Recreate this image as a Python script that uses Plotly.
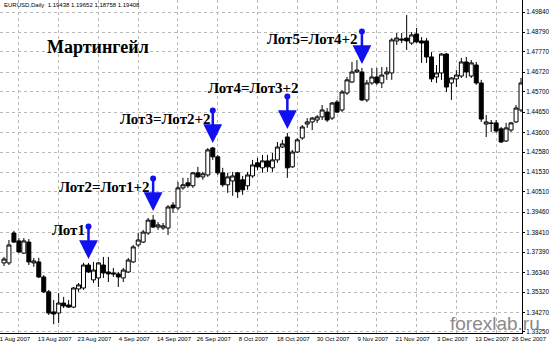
import pandas as pd
import plotly.graph_objects as go

# ---- data (EURUSD daily) ----
dates = [d.strftime("%Y-%m-%d") for d in pd.bdate_range("2007-07-27", "2007-12-20")]

opens = [1.3683, 1.3683, 1.3838, 1.3797, 1.3734, 1.3791, 1.3683, 1.3688, 1.3610, 1.3533,
         1.3429, 1.3423, 1.3475, 1.3465, 1.3454, 1.3548, 1.3553, 1.3672, 1.3595, 1.3605,
         1.3672, 1.3636, 1.3631, 1.3626, 1.3605, 1.3636, 1.3688, 1.3776, 1.3791, 1.3838,
         1.3905, 1.3869, 1.3864, 1.3864, 1.3983, 1.3968, 1.4072, 1.4098, 1.4083, 1.4150,
         1.4129, 1.4139, 1.4279, 1.4233, 1.4150, 1.4088, 1.4108, 1.4150, 1.4114, 1.4083,
         1.4134, 1.4202, 1.4176, 1.4212, 1.4176, 1.4217, 1.4284, 1.4336, 1.4181, 1.4258,
         1.4331, 1.4403, 1.4414, 1.4424, 1.4440, 1.4465, 1.4434, 1.4517, 1.4476, 1.4564,
         1.4621, 1.4673, 1.4673, 1.4528, 1.4616, 1.4647, 1.4616, 1.4663, 1.4668, 1.4834,
         1.4844, 1.4849, 1.4823, 1.4870, 1.4834, 1.4834, 1.4751, 1.4647, 1.4668, 1.4766,
         1.4616, 1.4637, 1.4652, 1.4725, 1.4652, 1.4709, 1.4616, 1.4403, 1.4409, 1.4409,
         1.4378, 1.4315, 1.4372, 1.4414, 1.4476]
highs = [1.3714, 1.3802, 1.3849, 1.3812, 1.3812, 1.3807, 1.3709, 1.3709, 1.3620, 1.3543,
         1.3491, 1.3527, 1.3507, 1.3491, 1.3558, 1.3579, 1.3683, 1.3683, 1.3688, 1.3688,
         1.3714, 1.3714, 1.3657, 1.3636, 1.3657, 1.3709, 1.3776, 1.3838, 1.3854, 1.3916,
         1.3931, 1.3895, 1.3890, 1.3983, 1.3999, 1.4103, 1.4124, 1.4124, 1.4155, 1.4181,
         1.4155, 1.4279, 1.4284, 1.4243, 1.4176, 1.4150, 1.4155, 1.4155, 1.4134, 1.4155,
         1.4217, 1.4228, 1.4243, 1.4243, 1.4253, 1.4310, 1.4321, 1.4357, 1.4269, 1.4331,
         1.4398, 1.4434, 1.4440, 1.4450, 1.4502, 1.4486, 1.4517, 1.4528, 1.4580, 1.4647,
         1.4725, 1.4735, 1.4694, 1.4632, 1.4694, 1.4694, 1.4699, 1.4699, 1.4849, 1.4875,
         1.4875, 1.4968, 1.4880, 1.4901, 1.4854, 1.4849, 1.4777, 1.4709, 1.4771, 1.4771,
         1.4647, 1.4683, 1.4746, 1.4751, 1.4735, 1.4725, 1.4632, 1.4450, 1.4424, 1.4424,
         1.4388, 1.4409, 1.4414, 1.4502, 1.4642]
lows = [1.3667, 1.3672, 1.3786, 1.3734, 1.3729, 1.3672, 1.3662, 1.3605, 1.3527, 1.3413,
        1.3365, 1.3371, 1.3449, 1.3449, 1.3449, 1.3533, 1.3543, 1.3631, 1.3579, 1.3558,
        1.3605, 1.3584, 1.3610, 1.3558, 1.3584, 1.3631, 1.3683, 1.3766, 1.3786, 1.3828,
        1.3864, 1.3854, 1.3854, 1.3828, 1.3942, 1.3957, 1.4062, 1.4072, 1.4072, 1.4124,
        1.4114, 1.4129, 1.4217, 1.4139, 1.4077, 1.4046, 1.4031, 1.4020, 1.4036, 1.4062,
        1.4124, 1.4165, 1.4150, 1.4155, 1.4155, 1.4202, 1.4279, 1.4124, 1.4176, 1.4253,
        1.4321, 1.4383, 1.4372, 1.4409, 1.4424, 1.4414, 1.4424, 1.4460, 1.4465, 1.4554,
        1.4616, 1.4668, 1.4522, 1.4517, 1.4606, 1.4606, 1.4590, 1.4632, 1.4632, 1.4813,
        1.4823, 1.4787, 1.4813, 1.4823, 1.4720, 1.4720, 1.4621, 1.4616, 1.4632, 1.4569,
        1.4528, 1.4595, 1.4642, 1.4642, 1.4642, 1.4606, 1.4414, 1.4336, 1.4362, 1.4357,
        1.4305, 1.4310, 1.4362, 1.4409, 1.4465]
closes = [1.3703, 1.3776, 1.3791, 1.3740, 1.3797, 1.3688, 1.3693, 1.3610, 1.3533, 1.3423,
          1.3418, 1.3475, 1.3460, 1.3454, 1.3553, 1.3569, 1.3672, 1.3636, 1.3646, 1.3683,
          1.3631, 1.3626, 1.3626, 1.3610, 1.3646, 1.3698, 1.3766, 1.3802, 1.3843, 1.3905,
          1.3869, 1.3880, 1.3875, 1.3973, 1.3968, 1.4072, 1.4088, 1.4083, 1.4150, 1.4129,
          1.4145, 1.4269, 1.4233, 1.4150, 1.4088, 1.4129, 1.4134, 1.4052, 1.4062, 1.4139,
          1.4191, 1.4181, 1.4212, 1.4181, 1.4217, 1.4284, 1.4300, 1.4176, 1.4258, 1.4321,
          1.4388, 1.4414, 1.4434, 1.4440, 1.4476, 1.4424, 1.4512, 1.4465, 1.4569, 1.4632,
          1.4673, 1.4683, 1.4528, 1.4616, 1.4647, 1.4616, 1.4657, 1.4673, 1.4839, 1.4849,
          1.4839, 1.4834, 1.4865, 1.4829, 1.4823, 1.4751, 1.4637, 1.4668, 1.4766, 1.4595,
          1.4642, 1.4657, 1.4725, 1.4673, 1.4720, 1.4616, 1.4429, 1.4414, 1.4406, 1.4367,
          1.4310, 1.4383, 1.4409, 1.4486, 1.4616]

x_tick_dates = ["2007-08-01", "2007-08-13", "2007-08-23", "2007-09-04", "2007-09-14",
                "2007-09-26", "2007-10-08", "2007-10-18", "2007-10-30", "2007-11-09",
                "2007-11-21", "2007-12-03", "2007-12-13"]
x_tick_text = ["1 Aug 2007", "13 Aug 2007", "23 Aug 2007", "4 Sep 2007", "14 Sep 2007",
               "26 Sep 2007", "8 Oct 2007", "18 Oct 2007", "30 Oct 2007", "9 Nov 2007",
               "21 Nov 2007", "3 Dec 2007", "13 Dec 2007"]
last_tick_text = "26 Dec 2007"

y_ticks = [1.49840, 1.48790, 1.47770, 1.46720, 1.45700, 1.44650, 1.43600, 1.42580, 1.41530,
           1.40510, 1.39460, 1.38410, 1.37390, 1.36340, 1.35320, 1.34270, 1.33250]
y_tick_text = ["%.5f" % v for v in y_ticks]

lot_bars = [17, 30, 42, 57, 72]
lot_labels = ["Лот1", "Лот2=Лот1+2", "Лот3=Лот2+2", "Лот4=Лот3+2", "Лот5=Лот4+2"]
title_text = "Мартингейл"
header_text = "EURUSD,Daily  1.19438 1.19652 1.18758 1.19408"
watermark = "forexlab.ru"

# ---- figure ----
TICK_FONT = dict(family="Liberation Sans, Arial", size=6, color="black")
Y_FONT = dict(family="Liberation Sans, Arial", size=6.3, color="black")
SERIF = "Liberation Serif, Times New Roman, serif"
BLUE = "#1010f0"
GRID = "#b8b8b8"

fig = go.Figure(go.Candlestick(
    x=dates, open=opens, high=highs, low=lows, close=closes,
    increasing=dict(line=dict(color="black", width=1), fillcolor="white"),
    decreasing=dict(line=dict(color="black", width=1), fillcolor="black"),
    whiskerwidth=0, hoverinfo="skip"))

ann = []
ann.append(dict(xref="paper", yref="paper", x=2 / 525, y=1 - 5 / 333, xanchor="left",
                yanchor="middle", text=header_text, showarrow=False, font=TICK_FONT))
ann.append(dict(xref="paper", yref="paper", x=45 / 525, y=1 - 47 / 333, xanchor="left",
                yanchor="middle", text="<b>%s</b>" % title_text, showarrow=False,
                font=dict(family=SERIF, size=18, color="black")))
label_pos = [(50, 230), (57, 187), (119, 119), (207, 88), (267, 39)]
for txt, (px, py) in zip(lot_labels, label_pos):
    ann.append(dict(xref="paper", yref="paper", x=px / 525, y=1 - py / 333, xanchor="left",
                    yanchor="middle", text="<b>%s</b>" % txt, showarrow=False,
                    font=dict(family=SERIF, size=15, color="black")))
for k in lot_bars:
    ann.append(dict(x=dates[k], y=highs[k], xref="x", yref="y", text="", showarrow=True,
                    arrowhead=2, arrowsize=1.5, arrowwidth=2.5, arrowcolor=BLUE,
                    startarrowhead=6, startarrowsize=0.6, arrowside="end+start",
                    ax=0, ay=-38, standoff=4))
ann.append(dict(xref="paper", yref="paper", x=533 / 525, y=0, xanchor="center",
                yanchor="top", yshift=-1, text=last_tick_text, showarrow=False, font=TICK_FONT))
ann.append(dict(xref="paper", yref="paper", x=451 / 525, y=-3 / 333, xanchor="left",
                yanchor="bottom", text=watermark, showarrow=False,
                font=dict(family="Liberation Sans, Arial", size=19, color="#8a8a8a")))

fig.update_layout(
    width=550, height=344, margin=dict(l=0, r=25, t=0, b=11),
    paper_bgcolor="white", plot_bgcolor="white", showlegend=False,
    boxgap=0.2, boxgroupgap=0.0,
    annotations=ann,
    xaxis=dict(type="category", range=[-0.8, 104.2], tickvals=x_tick_dates,
               ticktext=x_tick_text, showgrid=True, gridcolor=GRID, griddash="dot",
               gridwidth=1, showline=True, linecolor="black", linewidth=1, ticks="",
               tickfont=TICK_FONT, ticklabelshift=-4, rangeslider=dict(visible=False),
               zeroline=False, tickangle=0),
    yaxis=dict(side="right", range=[1.33196, 1.50462], tickvals=y_ticks, ticktext=y_tick_text,
               showgrid=True, gridcolor=GRID, griddash="dot", gridwidth=1, showline=True,
               linecolor="black", linewidth=1, ticks="outside", ticklen=2, tickcolor="black",
               tickfont=Y_FONT, zeroline=False),
)

fig.write_html("out.html")
